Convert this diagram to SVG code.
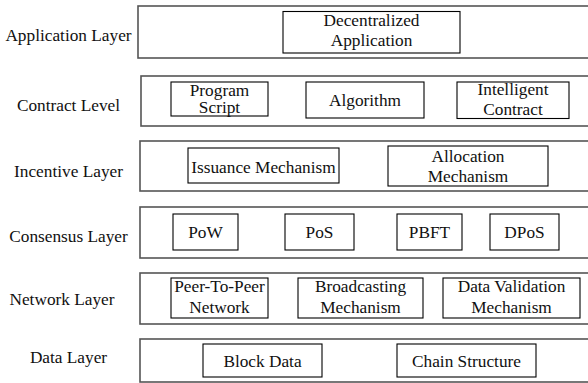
<svg xmlns="http://www.w3.org/2000/svg" width="588" height="383" viewBox="0 0 588 383">
  <style>
    .layer { fill: #fff; stroke: #555; stroke-width: 1.6; }
    .box { fill: #fff; stroke: #000; stroke-width: 1.1; }
    .t { font-family: 'Liberation Serif', 'Times New Roman', serif; font-size: 17.3px; fill: #111; text-anchor: middle; }
  </style>
  <rect width="588" height="383" fill="#fff"/>

  <!-- Application layer -->
  <g id="application-layer">
    <rect class="layer" x="138" y="6" width="460" height="52"/>
    <text class="t" x="68.5" y="41">Application Layer</text>
  </g>
  <g id="decentralized-application">
    <rect class="box" x="283" y="11.5" width="177" height="41.5"/>
    <text class="t" x="371.5" y="26">Decentralized</text>
    <text class="t" x="371.5" y="46">Application</text>
  </g>

  <!-- Contract level -->
  <g id="contract-level">
    <rect class="layer" x="141" y="76" width="460" height="50"/>
    <text class="t" x="68.5" y="111">Contract Level</text>
  </g>
  <g id="program-script">
    <rect class="box" x="171" y="82" width="97" height="34"/>
    <text class="t" x="219.5" y="95.5">Program</text>
    <text class="t" x="219.5" y="113">Script</text>
  </g>
  <g id="algorithm">
    <rect class="box" x="306" y="82" width="118" height="36"/>
    <text class="t" x="365" y="106">Algorithm</text>
  </g>
  <g id="intelligent-contract">
    <rect class="box" x="457" y="82" width="112" height="36.5"/>
    <text class="t" x="513" y="95">Intelligent</text>
    <text class="t" x="513" y="115">Contract</text>
  </g>

  <!-- Incentive layer -->
  <g id="incentive-layer">
    <rect class="layer" x="140" y="141" width="460" height="50"/>
    <text class="t" x="68.5" y="176.5">Incentive Layer</text>
  </g>
  <g id="issuance-mechanism">
    <rect class="box" x="188" y="148" width="151" height="35"/>
    <text class="t" x="263.5" y="172.5">Issuance Mechanism</text>
  </g>
  <g id="allocation-mechanism">
    <rect class="box" x="388" y="146" width="160" height="40"/>
    <text class="t" x="468" y="161.5">Allocation</text>
    <text class="t" x="468" y="182">Mechanism</text>
  </g>

  <!-- Consensus layer -->
  <g id="consensus-layer">
    <rect class="layer" x="140" y="207" width="460" height="51"/>
    <text class="t" x="68.5" y="242">Consensus Layer</text>
  </g>
  <g id="pow">
    <rect class="box" x="173" y="214" width="65" height="36"/>
    <text class="t" x="205.5" y="237.5">PoW</text>
  </g>
  <g id="pos">
    <rect class="box" x="285" y="214" width="69" height="36"/>
    <text class="t" x="319.5" y="237.5">PoS</text>
  </g>
  <g id="pbft">
    <rect class="box" x="397" y="214" width="65" height="36"/>
    <text class="t" x="429.5" y="237.5">PBFT</text>
  </g>
  <g id="dpos">
    <rect class="box" x="490" y="214" width="69" height="36"/>
    <text class="t" x="524.5" y="237.5">DPoS</text>
  </g>

  <!-- Network layer -->
  <g id="network-layer">
    <rect class="layer" x="140" y="273" width="460" height="51"/>
    <text class="t" x="62" y="305">Network Layer</text>
  </g>
  <g id="peer-to-peer-network">
    <rect class="box" x="171" y="278" width="97" height="40"/>
    <text class="t" x="219.5" y="292">Peer-To-Peer</text>
    <text class="t" x="219.5" y="313">Network</text>
  </g>
  <g id="broadcasting-mechanism">
    <rect class="box" x="298" y="278" width="125" height="40"/>
    <text class="t" x="360.5" y="292">Broadcasting</text>
    <text class="t" x="360.5" y="313">Mechanism</text>
  </g>
  <g id="data-validation-mechanism">
    <rect class="box" x="443" y="278" width="137" height="40"/>
    <text class="t" x="511.5" y="292">Data Validation</text>
    <text class="t" x="511.5" y="313">Mechanism</text>
  </g>

  <!-- Data layer -->
  <g id="data-layer">
    <rect class="layer" x="140" y="339" width="460" height="43"/>
    <text class="t" x="68.5" y="363">Data Layer</text>
  </g>
  <g id="block-data">
    <rect class="box" x="203" y="344" width="119" height="33"/>
    <text class="t" x="262.5" y="366.5">Block Data</text>
  </g>
  <g id="chain-structure">
    <rect class="box" x="397" y="344" width="139" height="33"/>
    <text class="t" x="466.5" y="366.5">Chain Structure</text>
  </g>

  <!-- the layers are stacked blocks without connectors -->
  <g id="connectors"/>
</svg>
